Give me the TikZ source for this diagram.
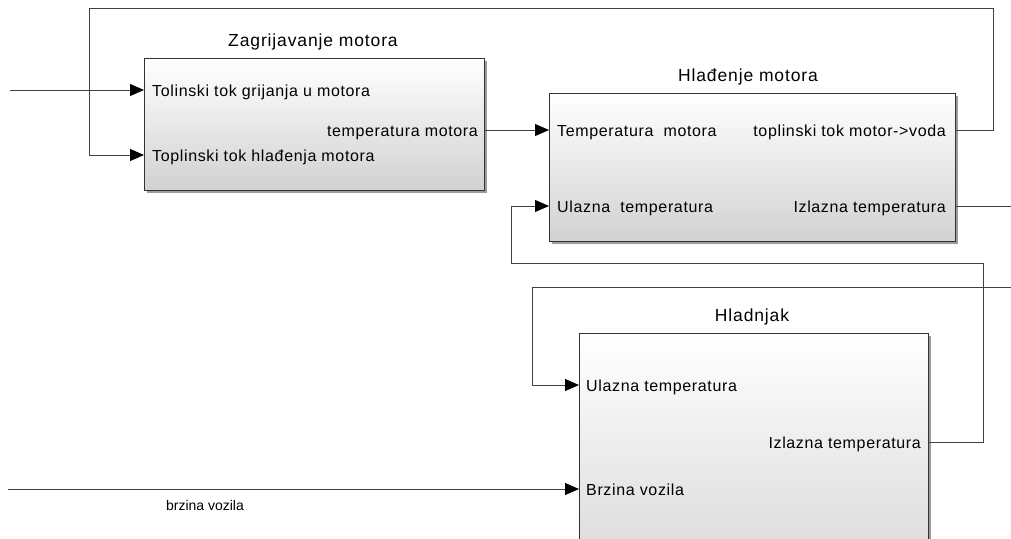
\documentclass[tikz,border=0pt]{standalone}
\usepackage{fontspec}
\setmainfont{Liberation Sans}
\newfontfamily\labfont[LetterSpace=4]{Liberation Sans}
\newfontfamily\ttlfont[LetterSpace=5]{Liberation Sans}
\usetikzlibrary{arrows.meta,shadows}
\begin{document}
\begin{tikzpicture}[x=1pt,y=-1pt,
  blk/.style={draw=black!80, line width=1.3pt, top color=white, bottom color=black!18,
    drop shadow={shadow xshift=2pt, shadow yshift=-2pt, fill=black!55, opacity=0.7},
    anchor=north west, inner sep=0pt},
  wire/.style={draw=black!75, line width=1pt},
  arr/.style={wire, -{Triangle[length=14pt,width=12pt,color=black,fill=black]}},
  plab/.style={font=\labfont\fontsize{16}{19}\selectfont, inner sep=0pt},
  ttl/.style={font=\ttlfont\fontsize{17.5}{20}\selectfont, inner sep=0pt, anchor=base},
  sig/.style={font=\fontsize{14}{17}\selectfont, inner sep=0pt, anchor=base}
]
\useasboundingbox (0,0) rectangle (1011,538);
\fill[white] (0,0) rectangle (1011,538);
\clip (0,0) rectangle (1011,538);

% blocks
\node[blk, minimum width=340pt, minimum height=132pt] (b1) at (144,58) {};
\node[blk, minimum width=406pt, minimum height=148pt] (b2) at (549,93) {};
\node[blk, minimum width=349pt, minimum height=290pt] (b3) at (579,333) {};

% titles
\node[ttl] (t1) at (313,46) {Zagrijavanje motora};
\node[ttl] (t2) at (748,81) {Hlađenje motora};
\node[ttl] (t3) at (752,321) {Hladnjak};

% port labels
\node[plab, anchor=base west] (l11) at (152,96) {Tolinski tok grijanja u motora};
\node[plab, anchor=base west] (l12) at (152,161) {Toplinski tok hlađenja motora};
\node[plab, anchor=base east] (l1o) at (478,136) {temperatura motora};
\node[plab, anchor=base west] (l21) at (557,136) {Temperatura\ \ motora};
\node[plab, anchor=base west] (l22) at (557,212) {Ulazna\ \ temperatura};
\node[plab, anchor=base east] (l2o1) at (946,136) {toplinski tok motor->voda};
\node[plab, anchor=base east] (l2o2) at (946,212) {Izlazna temperatura};
\node[plab, anchor=base west] (l31) at (586,391) {Ulazna temperatura};
\node[plab, anchor=base west] (l32) at (586,495) {Brzina vozila};
\node[plab, anchor=base east] (l3o) at (921,448) {Izlazna temperatura};
\node[sig] (sv) at (205,510) {brzina vozila};

% port coordinates
\coordinate (p1i1) at (144,90);
\coordinate (p1i2) at (144,155);
\coordinate (p1o) at (484,130);
\coordinate (p2i1) at (549,130);
\coordinate (p2i2) at (549,206);
\coordinate (p2o1) at (955,130);
\coordinate (p2o2) at (955,206);
\coordinate (p3i1) at (579,385);
\coordinate (p3i2) at (579,489);
\coordinate (p3o) at (928,442);
\coordinate (s1) at (10,90);
\coordinate (s2) at (8,489);
\coordinate (e1) at (1011,206);
\coordinate (e2) at (1011,287);

% connectors
\draw[arr] (s1) -- (p1i1);
\draw[arr] (p2o1) -- (993,130) -- (993,8) -- (89,8) -- (89,155) -- (p1i2);
\draw[arr] (p1o) -- (p2i1);
\draw[arr] (p3o) -- (983,442) -- (983,263) -- (511,263) -- (511,206) -- (p2i2);
\draw[wire] (p2o2) -- (e1);
\draw[arr] (e2) -- (532,287) -- (532,385) -- (p3i1);
\draw[arr] (s2) -- (p3i2);
\end{tikzpicture}
\end{document}
